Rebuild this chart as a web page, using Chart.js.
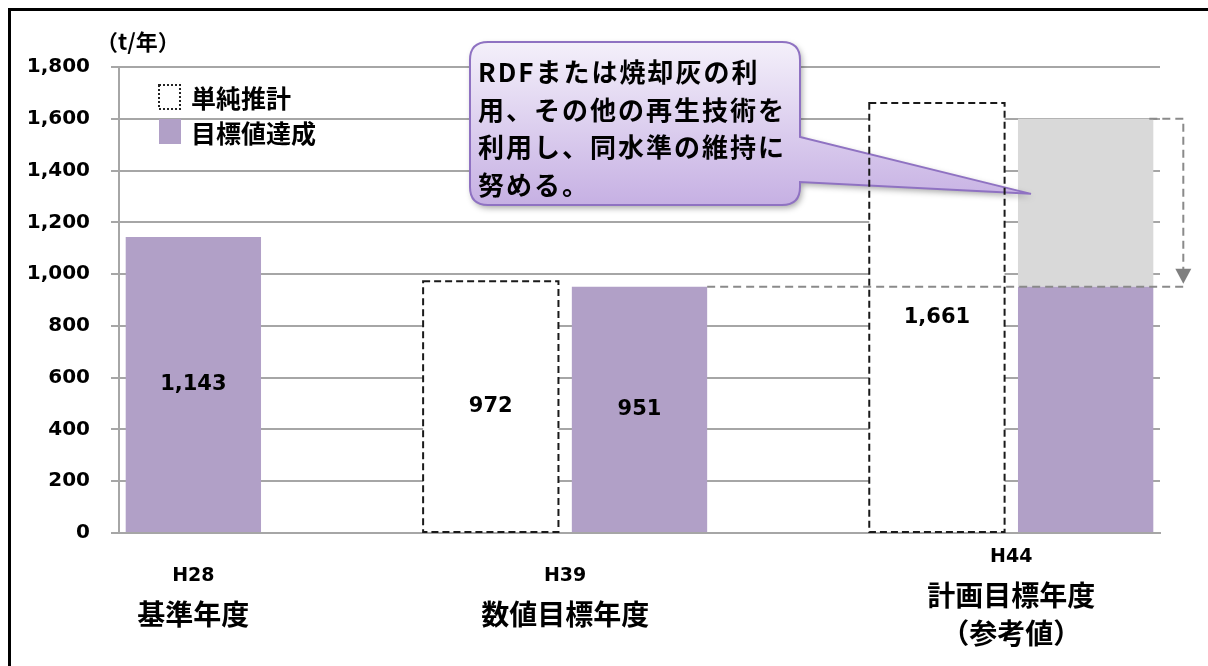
<!DOCTYPE html>
<html lang="ja">
<head>
<meta charset="utf-8">
<title>最終処分量の目標</title>
<script src="https://cdn.jsdelivr.net/npm/chart.js@4.4.1/dist/chart.umd.min.js"></script>
<style>
  html, body { margin: 0; padding: 0; background: #fff; overflow: hidden; }
  #wrap { position: relative; width: 1208px; height: 666px; }
  #frame { position: absolute; left: 8px; top: 8px; width: 1300px; height: 800px; border: 3px solid #000; box-sizing: border-box; }
  #chart { position: absolute; left: 0; top: 0; }
</style>
</head>
<body>
<div id="wrap">
  <div id="frame"></div>
  <canvas id="chart" width="1208" height="666"></canvas>
</div>
<script>
// slots on the category axis: empty slots keep the gaps between year groups
const slots = ['H28', 'gap1', 'H39推計', 'H39目標', 'gap2', 'H44推計', 'H44目標'];
const simpleEstimate = [null, null, 972, null, null, 1661, null];
const targetValue = [1143, null, null, 951, null, null, 951];
const keepLevel = [null, null, null, null, null, null, [951, 1600]];
// which target bars carry a value label
const targetLabelled = [true, false, false, true, false, false, false];

const seriesNames = ['単純推計', '目標値達成'];
const groupYears = ['H28', 'H39', 'H44'];
const groupNames = [['基準年度'], ['数値目標年度'], ['計画目標年度', '（参考値）']];
const groupSlots = [[0], [2, 3], [5, 6]];
const unitLabel = '（t/年）';
const calloutLines = ['RDFまたは焼却灰の利', '用、その他の再生技術を', '利用し、同水準の維持に', '努める。'];

const PURPLE = '#b1a0c7';
const GRAY_BAR = '#d9d9d9';
const GRID = '#a6a6a6';
const NUM_FONT = '"DejaVu Sans", sans-serif';
const JP_FONT = '"Noto Sans CJK JP", sans-serif';

const fmt = v => v.toLocaleString('en-US');

// draw text one character at a time with extra spacing
function spacedText(ctx, text, x, y, gap) {
  let cx = x;
  Array.from(text).forEach(c => {
    ctx.fillText(c, cx, y);
    cx += ctx.measureText(c).width + gap;
  });
}

function drawCallout(ctx, tipX, tipY) {
  const left = 470, top = 42, right = 800, bottom = 205, r = 18;
  const tailTop = 137, tailBottom = 182;
  ctx.save();
  ctx.beginPath();
  ctx.moveTo(left + r, top);
  ctx.lineTo(right - r, top);
  ctx.quadraticCurveTo(right, top, right, top + r);
  ctx.lineTo(right, tailTop);
  ctx.lineTo(tipX, tipY);
  ctx.lineTo(right, tailBottom);
  ctx.lineTo(right, bottom - r);
  ctx.quadraticCurveTo(right, bottom, right - r, bottom);
  ctx.lineTo(left + r, bottom);
  ctx.quadraticCurveTo(left, bottom, left, bottom - r);
  ctx.lineTo(left, top + r);
  ctx.quadraticCurveTo(left, top, left + r, top);
  ctx.closePath();
  const grad = ctx.createLinearGradient(0, top, 0, bottom);
  grad.addColorStop(0, '#f4f0fa');
  grad.addColorStop(0.5, '#ddd0ef');
  grad.addColorStop(1, '#c6b0e3');
  ctx.shadowColor = 'rgba(0,0,0,0.35)';
  ctx.shadowBlur = 6;
  ctx.shadowOffsetX = 2;
  ctx.shadowOffsetY = 3;
  ctx.fillStyle = grad;
  ctx.fill();
  ctx.shadowColor = 'transparent';
  ctx.strokeStyle = '#8f72c2';
  ctx.lineWidth = 2;
  ctx.stroke();

  ctx.fillStyle = '#000';
  ctx.font = 'bold 26px ' + JP_FONT;
  ctx.textBaseline = 'middle';
  ctx.textAlign = 'left';
  const ys = [72, 110, 147, 185];
  calloutLines.forEach((line, i) => spacedText(ctx, line, 478, ys[i], 2));
  ctx.restore();
}

const decor = {
  id: 'decor',
  afterDatasetsDraw(chart) {
    const ctx = chart.ctx;
    const ys = chart.scales.y;
    const estMeta = chart.getDatasetMeta(0);
    const tgtMeta = chart.getDatasetMeta(1);
    const keepMeta = chart.getDatasetMeta(2);

    // callout pointing into the kept-level bar
    const keepBar = keepMeta.data[6];
    drawCallout(ctx, keepBar.x - keepBar.width / 2 + 13, ys.getPixelForValue(1310));

    // dashed outlines for the simple estimate
    ctx.save();
    ctx.strokeStyle = '#1a1a1a';
    ctx.lineWidth = 2;
    ctx.setLineDash([7, 4]);
    simpleEstimate.forEach((v, i) => {
      if (v == null) return;
      const el = estMeta.data[i];
      ctx.strokeRect(el.x - el.width / 2, el.y, el.width, el.base - el.y);
    });
    ctx.restore();

    // value labels
    ctx.save();
    ctx.fillStyle = '#000';
    ctx.font = 'bold 21px ' + NUM_FONT;
    ctx.textAlign = 'center';
    ctx.textBaseline = 'middle';
    simpleEstimate.forEach((v, i) => {
      if (v == null) return;
      const el = estMeta.data[i];
      ctx.fillText(fmt(v), el.x, (el.y + el.base) / 2);
    });
    targetValue.forEach((v, i) => {
      if (v == null || !targetLabelled[i]) return;
      const el = tgtMeta.data[i];
      ctx.fillText(fmt(v), el.x, (el.y + el.base) / 2);
    });
    ctx.restore();

    // guide lines and arrow from the kept level down to the target
    const [lowV, highV] = keepLevel[6];
    const yLow = ys.getPixelForValue(lowV);
    const yHigh = ys.getPixelForValue(highV);
    const barRight = keepBar.x + keepBar.width / 2;
    const arrowX = barRight + 30;
    const midBar = tgtMeta.data[3];
    ctx.save();
    ctx.strokeStyle = '#8a8a8a';
    ctx.fillStyle = '#7f7f7f';
    ctx.lineWidth = 2;
    ctx.setLineDash([8, 5]);
    ctx.beginPath();
    ctx.moveTo(midBar.x + midBar.width / 2, yLow);
    ctx.lineTo(arrowX, yLow);
    ctx.moveTo(barRight - 4, yHigh);
    ctx.lineTo(arrowX, yHigh);
    ctx.lineTo(arrowX, yLow - 17);
    ctx.stroke();
    ctx.setLineDash([]);
    ctx.beginPath();
    ctx.moveTo(arrowX - 8, yLow - 18);
    ctx.lineTo(arrowX + 8, yLow - 18);
    ctx.lineTo(arrowX, yLow - 3);
    ctx.closePath();
    ctx.fill();
    ctx.restore();
  },
  afterDraw(chart) {
    const ctx = chart.ctx;
    const xs = chart.scales.x;
    ctx.save();
    ctx.fillStyle = '#000';
    ctx.textBaseline = 'middle';

    // unit
    ctx.font = 'bold 22px ' + JP_FONT;
    ctx.textAlign = 'left';
    ctx.fillText(unitLabel, 96, 42);

    // legend
    ctx.save();
    ctx.fillStyle = '#fff';
    ctx.fillRect(159, 85, 21, 24);
    ctx.strokeStyle = '#222';
    ctx.lineWidth = 2;
    ctx.setLineDash([2, 2]);
    ctx.strokeRect(159, 85, 21, 24);
    ctx.restore();
    ctx.fillStyle = PURPLE;
    ctx.fillRect(159, 119, 22, 25);
    ctx.fillStyle = '#000';
    ctx.font = 'bold 25px ' + JP_FONT;
    ctx.fillText(seriesNames[0], 191, 98);
    ctx.fillText(seriesNames[1], 191, 133);

    // category labels under each year group
    ctx.textAlign = 'center';
    groupYears.forEach((yr, g) => {
      const idx = groupSlots[g];
      const cx = idx.reduce((s, i) => s + xs.getPixelForValue(i), 0) / idx.length;
      const lines = [yr].concat(groupNames[g]);
      const pitch = 38;
      const y0 = 595 - (lines.length - 1) * pitch / 2;
      lines.forEach((t, k) => {
        ctx.font = k === 0 ? 'bold 19px ' + NUM_FONT : 'bold 28px ' + JP_FONT;
        ctx.fillText(t, cx, y0 + k * pitch);
      });
    });
    ctx.restore();
  }
};

new Chart(document.getElementById('chart'), {
  type: 'bar',
  data: {
    labels: slots,
    datasets: [
      { label: seriesNames[0], data: simpleEstimate, backgroundColor: '#fff' },
      { label: seriesNames[1], data: targetValue, backgroundColor: PURPLE },
      { label: '維持分', data: keepLevel, backgroundColor: GRAY_BAR }
    ]
  },
  options: {
    responsive: false,
    animation: false,
    datasets: { bar: { grouped: false, barPercentage: 0.91, categoryPercentage: 1 } },
    layout: { padding: { top: 67, right: 48, left: 0, bottom: 0 } },
    plugins: { legend: { display: false }, tooltip: { enabled: false } },
    scales: {
      x: {
        grid: { display: false },
        border: { color: GRID, width: 2 },
        ticks: { display: false },
        afterFit(s) { s.height = 133; }
      },
      y: {
        min: 0,
        max: 1800,
        ticks: {
          stepSize: 200,
          color: '#000',
          padding: 21,
          font: { family: NUM_FONT, weight: 'bold', size: 20 },
          callback: v => fmt(v)
        },
        grid: { color: GRID, lineWidth: 2, tickLength: 8, tickColor: GRID },
        border: { color: GRID, width: 2 },
        afterFit(s) { s.width = 119; }
      }
    }
  },
  plugins: [decor]
});
</script>
</body>
</html>
